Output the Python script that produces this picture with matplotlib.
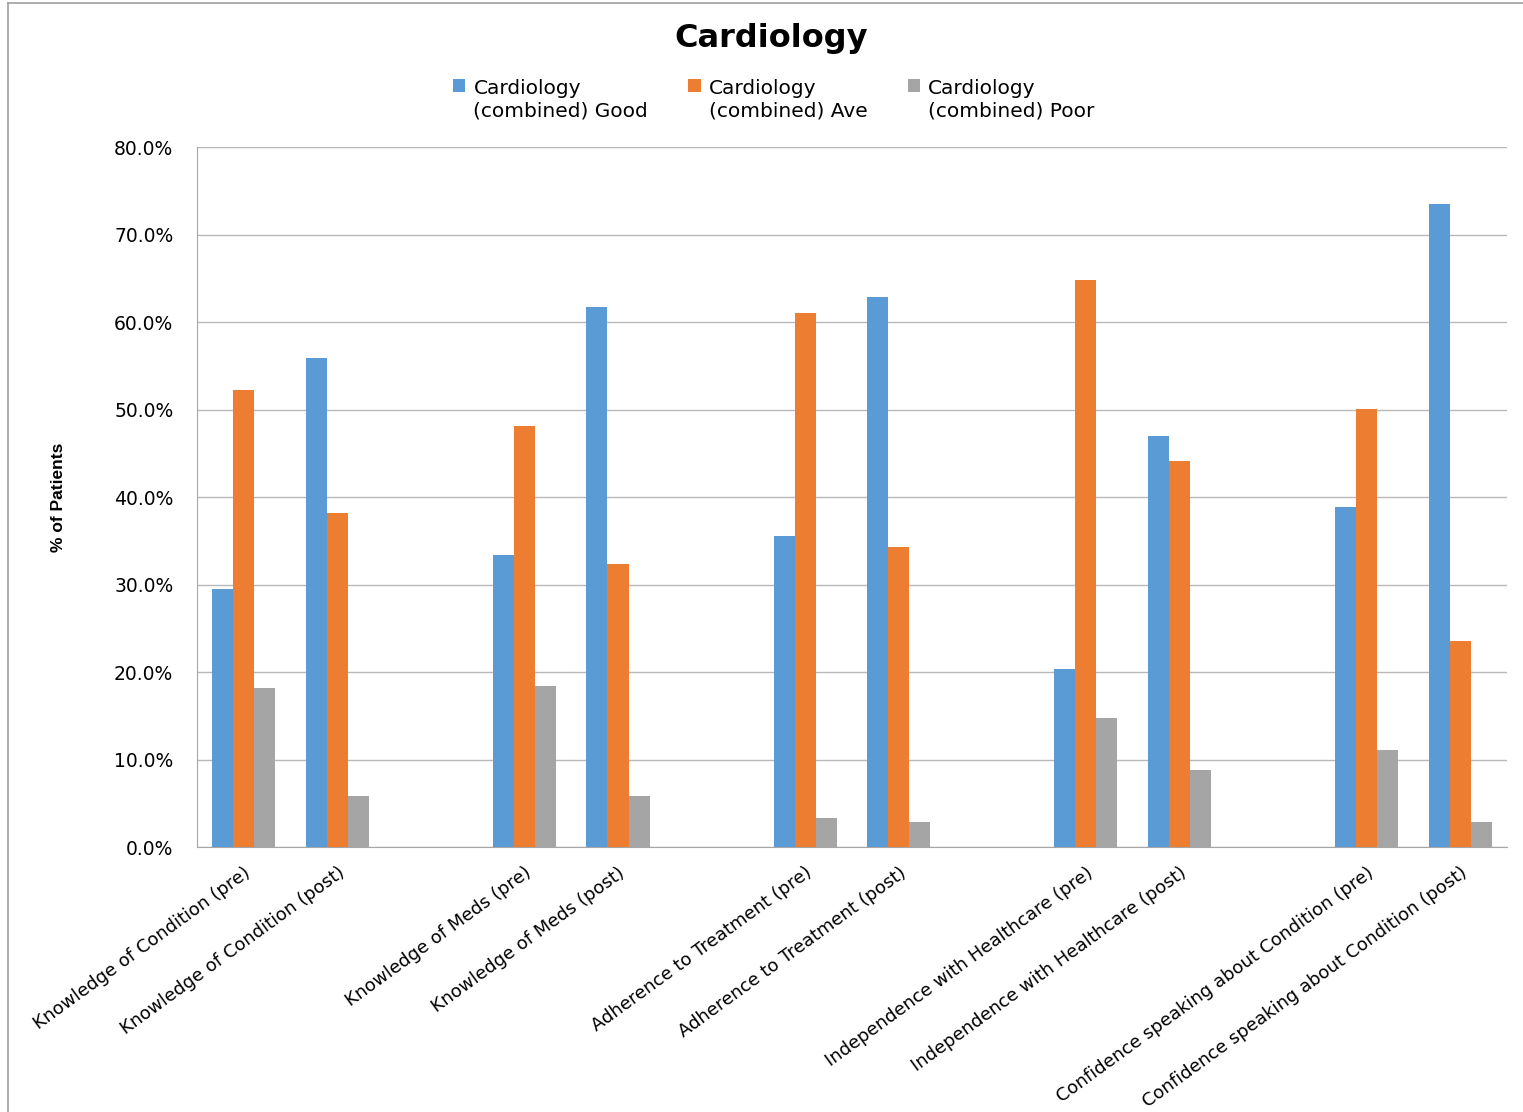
import numpy as np
import matplotlib
matplotlib.use("Agg")
import matplotlib.pyplot as plt
from matplotlib.lines import Line2D
from matplotlib.ticker import FuncFormatter

# categories (empty strings are the gaps between groups)
categories = [
    "Knowledge of Condition (pre)", "Knowledge of Condition (post)", "",
    "Knowledge of Meds (pre)", "Knowledge of Meds (post)", "",
    "Adherence to Treatment (pre)", "Adherence to Treatment (post)", "",
    "Independence with Healthcare (pre)", "Independence with Healthcare (post)", "",
    "Confidence speaking about Condition (pre)", "Confidence speaking about Condition (post)",
]
nan = np.nan
good = [29.5, 55.9, nan, 33.4, 61.7, nan, 35.5, 62.9, nan, 20.3, 47.0, nan, 38.9, 73.5]
ave = [52.2, 38.2, nan, 48.1, 32.3, nan, 61.0, 34.3, nan, 64.8, 44.1, nan, 50.1, 23.5]
poor = [18.2, 5.8, nan, 18.4, 5.8, nan, 3.3, 2.9, nan, 14.7, 8.8, nan, 11.1, 2.9]
series_names = ["Cardiology\n(combined) Good", "Cardiology\n(combined) Ave", "Cardiology\n(combined) Poor"]
colors = ["#5B9BD5", "#ED7D31", "#A5A5A5"]

fig = plt.figure(figsize=(15.23, 11.12), dpi=100)
ax = fig.add_axes([0.1293, 0.2383, 0.8602, 0.6295])

x = np.arange(len(categories))
w = 0.225
for i, (vals, name, c) in enumerate(zip([good, ave, poor], series_names, colors)):
    ax.bar(x + (i - 1) * w, vals, width=w, color=c, label=name, zorder=3)

ax.set_xlim(-0.5, len(categories) - 0.5)
ax.set_ylim(0, 80)
ax.set_yticks(np.arange(0, 81, 10))
ax.yaxis.set_major_formatter(FuncFormatter(lambda v, p: "%.1f%%" % v))
ax.grid(axis="y", color="#B8B8B8", linewidth=1, zorder=0)
for s in ["top", "right"]:
    ax.spines[s].set_visible(False)
for s in ["left", "bottom"]:
    ax.spines[s].set_color("#A6A6A6")
ax.tick_params(axis="both", length=0, colors="#000000")
ax.tick_params(axis="y", pad=17, labelsize=13.5)

ax.set_xticks(x)
ax.set_xticklabels(categories, rotation=36, ha="right", rotation_mode="anchor", fontsize=13)
ax.tick_params(axis="x", pad=12)

ax.set_ylabel("% of Patients", fontsize=12.5, fontweight="bold", family="Liberation Sans")
ax.yaxis.set_label_coords(-0.1, 0.5)

fig.text(0.506, 0.965, "Cardiology", ha="center", va="center", fontsize=23, fontweight="bold")

leg = fig.legend(loc="upper center", bbox_to_anchor=(0.508, 0.945), ncol=3, frameon=False,
                 fontsize=14.5, handlelength=0.6, handleheight=0.6, handletextpad=0.4,
                 columnspacing=2.0)
# put the colour squares next to the first text line
for col in leg._legend_handle_box.get_children():
    for row in col.get_children():
        row.align = "top"

# outer chart border
fig.add_artist(Line2D([0.005, 1.0], [0.997, 0.997], transform=fig.transFigure, color="#A0A0A0", lw=1.2))
fig.add_artist(Line2D([0.005, 0.005], [0.0, 0.997], transform=fig.transFigure, color="#A0A0A0", lw=1.2))

fig.savefig("out.png", dpi=100)
